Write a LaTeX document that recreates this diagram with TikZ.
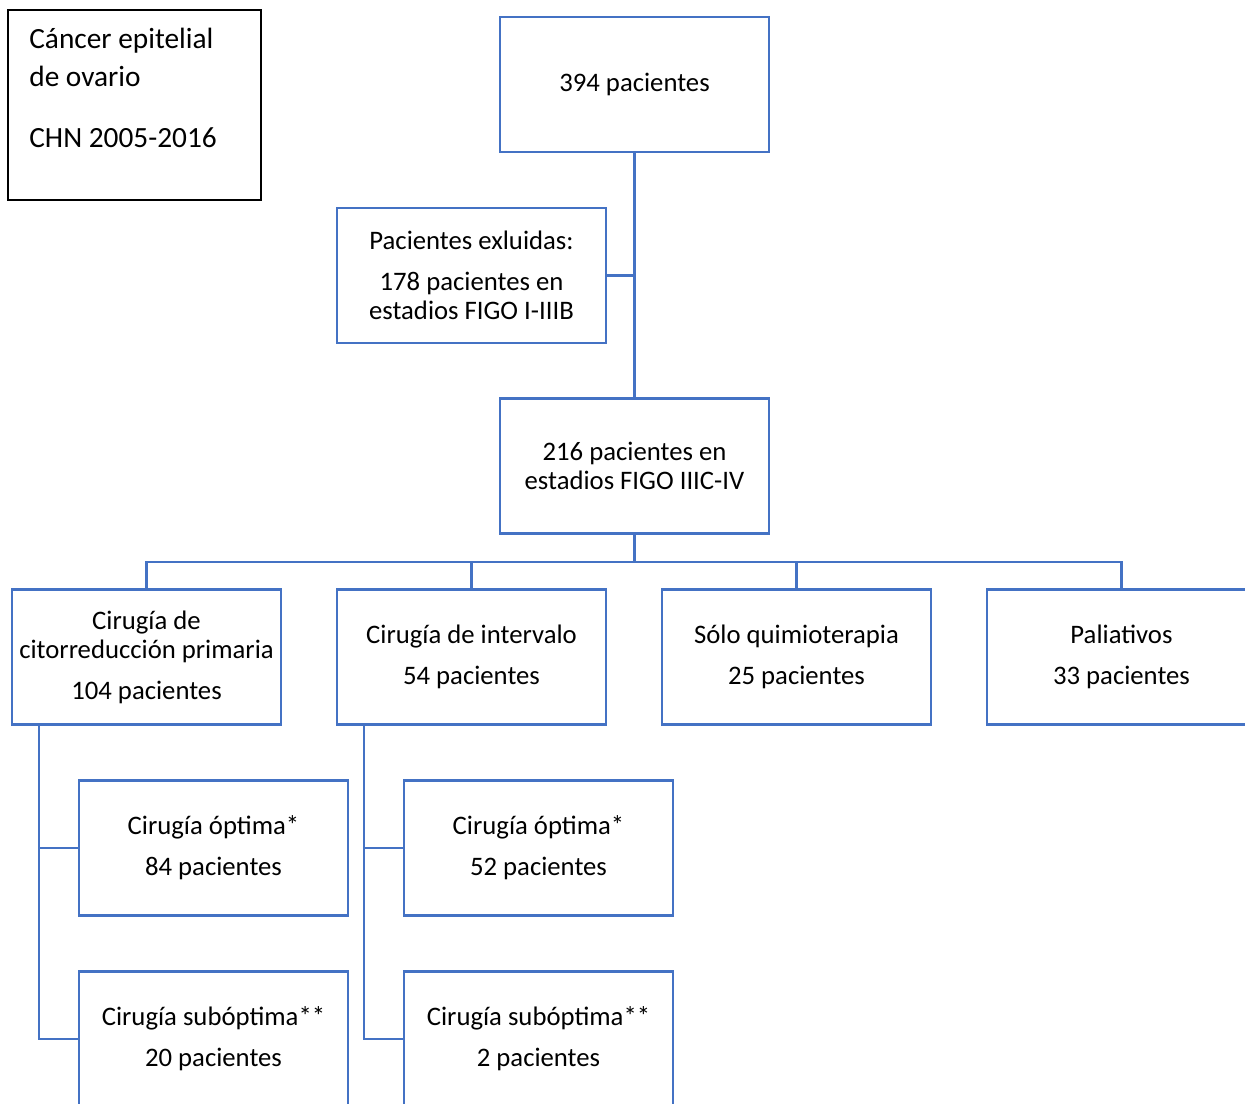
\documentclass[tikz,border=0pt]{standalone}
\usepackage{fontspec}
\setmainfont{Carlito}
\definecolor{boxblue}{HTML}{4472C4}

\begin{document}
\begin{tikzpicture}[x=0.02cm, y=-0.02cm,
	every node/.style={font=\fontsize{15.2}{16.5}\selectfont},
	box/.style={draw=boxblue, line width=1.4pt, minimum width=5.38cm,
		minimum height=2.7cm, inner sep=0pt, align=center},
	link/.style={draw=boxblue, line width=1.4pt}]
	\useasboundingbox (0,0) rectangle (1245,1103);
	\clip (0,0) rectangle (1245,1103);
	% title
	\node[draw=black, line width=1.1pt, minimum width=5.06cm, minimum height=3.8cm] (title) at (134.5,105) {};
	\node[anchor=north west, inner sep=0pt, align=left, font=\fontsize{16.7}{21.5}\selectfont] (titletext) at (29,28)
		{Cáncer epitelial\\de ovario\\[13pt]CHN 2005-2016};
	% main column
	\node[box] (top)   at (634.5,84.5)  {394 pacientes};
	\node[box] (excl)  at (471.5,275.5) {Pacientes exluidas:\\[6.8pt]178 pacientes en\\estadios FIGO I-IIIB};
	\node[box] (stage) at (634.5,466)   {216 pacientes en\\estadios FIGO IIIC-IV};
	% treatments
	\node[box] (prim)   at (146.5,657)  {Cirugía de\\citorreducción primaria\\[6.8pt]104 pacientes};
	\node[box] (interv) at (471.5,657)  {Cirugía de intervalo\\[6.8pt]54 pacientes};
	\node[box] (quimio) at (796.5,657)  {Sólo quimioterapia\\[6.8pt]25 pacientes};
	\node[box] (paliat) at (1121.5,657) {Paliativos\\[6.8pt]33 pacientes};
	% surgery results
	\node[box] (opt1) at (213.5,848)  {Cirugía óptima*\\[6.8pt]84 pacientes};
	\node[box] (sub1) at (213.5,1039) {Cirugía subóptima**\\[6.8pt]20 pacientes};
	\node[box] (opt2) at (538.5,848)  {Cirugía óptima*\\[6.8pt]52 pacientes};
	\node[box] (sub2) at (538.5,1039) {Cirugía subóptima**\\[6.8pt]2 pacientes};
	\coordinate (bus) at (634.5,562);
	\coordinate (s1) at (39,724);
	\coordinate (s2) at (364,724);
	\draw[link] (top) -- (stage);
	\draw[link] (excl.east) -- (excl.east -| top.south);
	\draw[link] (stage) -- (bus);
	\foreach \to in {prim, interv, quimio, paliat}
	\draw[link] (bus) -| (\to.north);
	\foreach \from/\to in {
		s1/opt1, s1/sub1,
		s2/opt2, s2/sub2}
	\draw[link] (\from) |- (\to.west);
\end{tikzpicture}
\end{document}
